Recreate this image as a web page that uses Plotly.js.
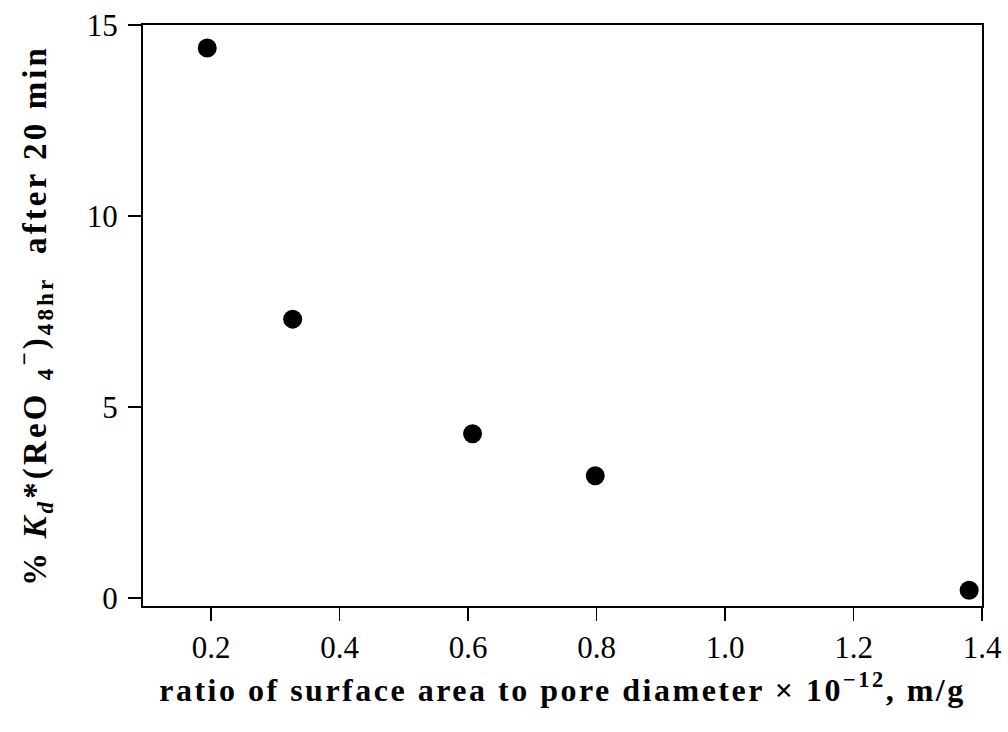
<!DOCTYPE html>
<html>
<head>
<meta charset="utf-8">
<script src="https://cdn.plot.ly/plotly-3.0.1.min.js"></script>
<style>
html,body{margin:0;padding:0;background:#fff;}
#chart{width:1008px;height:732px;}
text.xtitle{letter-spacing:2.5px;}
text.ytitle{letter-spacing:3.1px;}
</style>
</head>
<body>
<div id="chart"></div>
<script>
const ratio = [0.194, 0.327, 0.607, 0.798, 1.380];
const kdPercent = [14.4, 7.3, 4.3, 3.2, 0.2];
const xTicks = [0.2, 0.4, 0.6, 0.8, 1.0, 1.2, 1.4];
const xTickLabels = ['0.2', '0.4', '0.6', '0.8', '1.0', '1.2', '1.4'];
const yTicks = [0, 5, 10, 15];

const serif = 'Liberation Serif, Times New Roman, serif';

const trace = {
  x: ratio, y: kdPercent, mode: 'markers', type: 'scatter',
  marker: {color: '#000', size: 19, line: {width: 0}},
  hoverinfo: 'skip'
};

const layout = {
  width: 1008, height: 732,
  margin: {l: 143, r: 26, t: 25, b: 126},
  paper_bgcolor: '#fff', plot_bgcolor: '#fff',
  showlegend: false,
  font: {family: serif, color: '#000', size: 31},
  xaxis: {
    range: [0.094, 1.4],
    tickvals: xTicks, ticktext: xTickLabels,
    ticks: 'outside', ticklen: 13, tickwidth: 1.5, tickcolor: '#000',
    showline: true, linewidth: 2, linecolor: '#000', mirror: true,
    showgrid: false, zeroline: false,
    ticklabelstandoff: 0,
    tickfont: {family: serif, size: 31, color: '#000'},
    title: {
      text: '<b>ratio of surface area to pore diameter × 10<sup>−12</sup>, m/g</b>',
      font: {family: serif, size: 32, color: '#000'},
      standoff: 14
    },
    automargin: false
  },
  yaxis: {
    range: [-0.21, 15],
    tickvals: yTicks,
    ticks: 'outside', ticklen: 13, tickwidth: 1.5, tickcolor: '#000',
    showline: true, linewidth: 2, linecolor: '#000', mirror: true,
    showgrid: false, zeroline: false,
    ticklabelstandoff: 4,
    tickfont: {family: serif, size: 31, color: '#000'},
    title: {
      text: '<b>% <i>K<sub>d</sub></i>*(ReO <sub>4</sub><sup>−</sup>)<sub>48hr</sub>  after 20 min</b>',
      font: {family: serif, size: 33, color: '#000'},
      standoff: 30
    },
    automargin: false
  }
};

Plotly.newPlot('chart', [trace], layout, {displayModeBar: false, staticPlot: true});
</script>
</body>
</html>
